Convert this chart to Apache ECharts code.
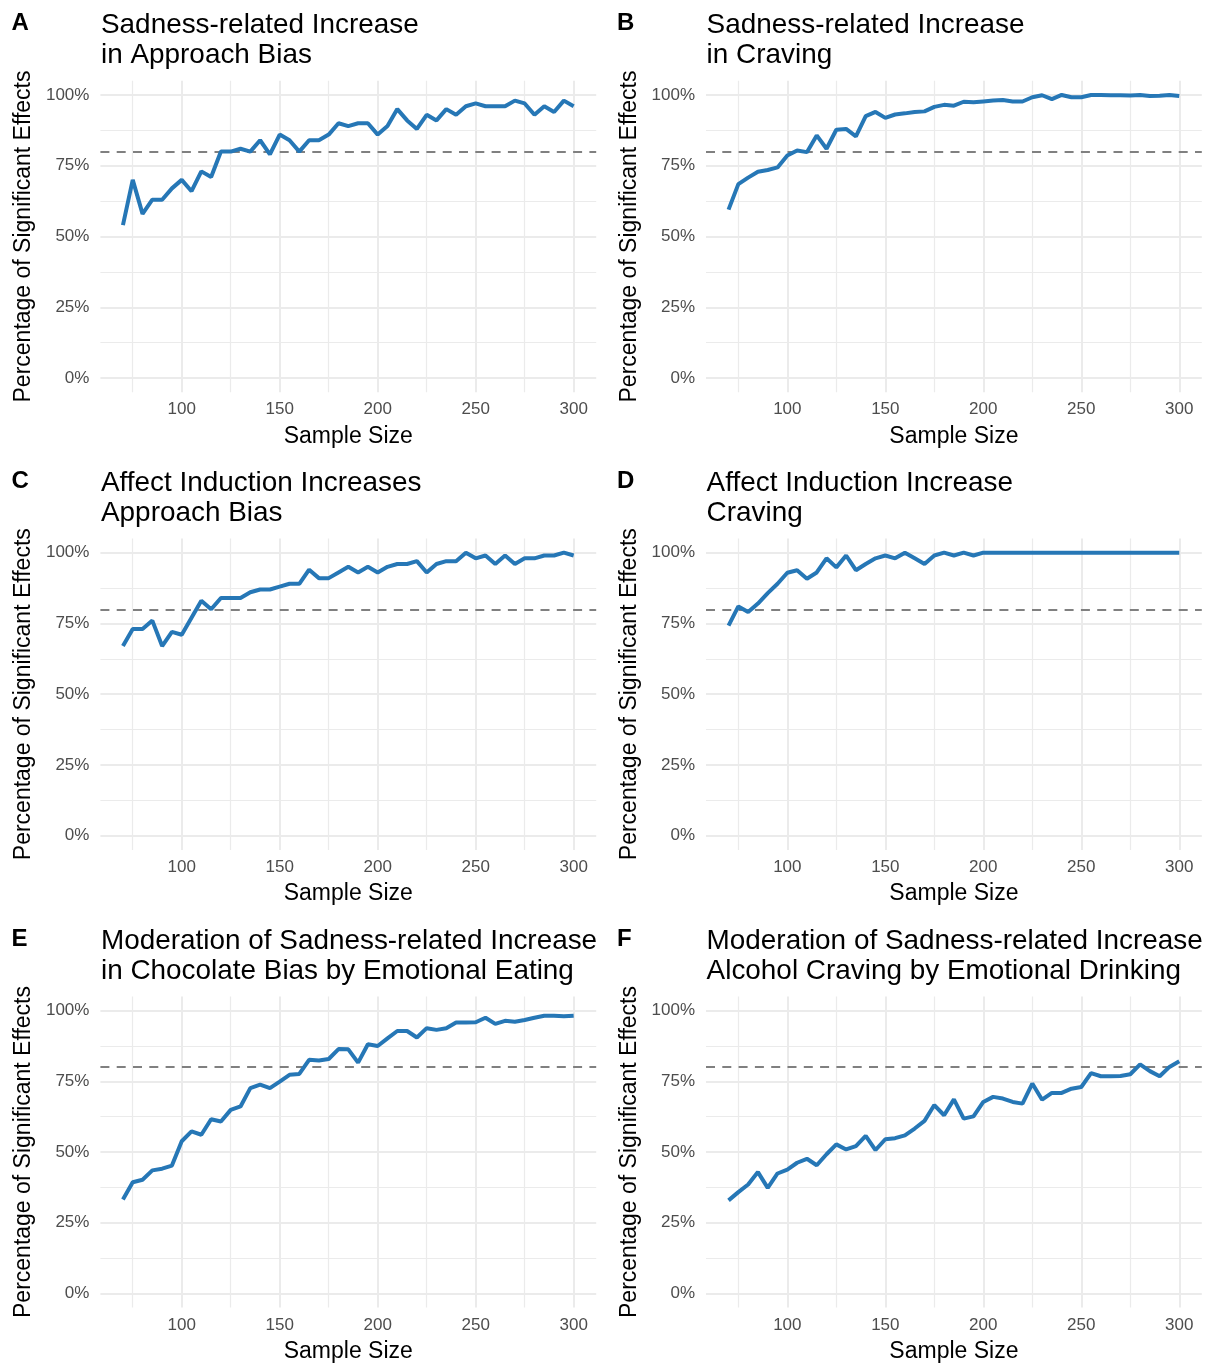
<!DOCTYPE html>
<html>
<head>
<meta charset="utf-8">
<script src="https://cdn.jsdelivr.net/npm/echarts@6/dist/echarts.min.js"></script>
<style>
  html, body { margin: 0; padding: 0; background: #ffffff; }
  #chart { width: 1212px; height: 1364px; }
</style>
</head>
<body>
<div id="chart"></div>
<script>
// ---------- DATA ----------
const sampleSizes = [70, 75, 80, 85, 90, 95, 100, 105, 110, 115, 120, 125, 130, 135, 140, 145, 150, 155, 160, 165,
  170, 175, 180, 185, 190, 195, 200, 205, 210, 215, 220, 225, 230, 235, 240, 245, 250, 255, 260, 265,
  270, 275, 280, 285, 290, 295, 300];

const powerA = [54, 70, 58, 63, 63, 67, 70, 66, 73, 71, 80, 80, 81, 80, 84, 79, 86, 84, 80, 84,
  84, 86, 90, 89, 90, 90, 86, 89, 95, 91, 88, 93, 91, 95, 93, 96, 97, 96, 96, 96,
  98, 97, 93, 96, 94, 98, 96];
const powerB = [59.5, 68.5, 70.8, 72.9, 73.5, 74.4, 78.6, 80.4, 79.8, 85.7, 81, 87.7, 88, 85.4, 92.5, 94, 91.9, 93.1, 93.5, 94,
  94.2, 95.8, 96.5, 96.2, 97.6, 97.4, 97.7, 98, 98.2, 97.7, 97.7, 99.2, 99.9, 98.5, 100, 99.2, 99.2, 100, 100, 99.9,
  99.9, 99.8, 100, 99.6, 99.7, 100, 99.6];
const powerC = [67, 73, 73, 76, 67, 72, 71, 77, 83, 80, 84, 84, 84, 86, 87, 87, 88, 89, 89, 94,
  91, 91, 93, 95, 93, 95, 93, 95, 96, 96, 97, 93, 96, 97, 97, 100, 98, 99, 96, 99,
  96, 98, 98, 99, 99, 100, 99];
const powerD = [74.2, 81, 79, 82, 85.7, 89, 92.9, 93.8, 90.8, 93, 98, 94.8, 99, 93.8, 96, 98, 99, 98, 100, 98,
  96, 99, 100, 99, 100, 99, 100, 100, 100, 100, 100, 100, 100, 100, 100, 100, 100, 100, 100, 100,
  100, 100, 100, 100, 100, 100, 100];
const powerE = [33.2, 39.3, 40.2, 43.5, 44.1, 45.2, 53.8, 57.3, 56.1, 61.6, 60.8, 64.9, 66.1, 72.6, 73.8, 72.6, 74.9, 77.3, 77.6, 82.6,
  82.4, 82.9, 86.4, 86.3, 81.6, 88.1, 87.5, 90.2, 92.8, 92.8, 90.5, 93.8, 93.2, 93.8, 95.8, 95.8, 95.9, 97.5, 95.3, 96.4,
  96.1, 96.7, 97.5, 98.2, 98.2, 98, 98.2];
const powerF = [32.9, 35.8, 38.5, 42.9, 37.3, 42.4, 43.8, 46.2, 47.6, 45.3, 49.2, 52.7, 50.9, 52.1, 55.7, 50.7, 54.5, 54.9, 55.9, 58.3,
  61, 66.6, 63, 68.6, 61.8, 62.6, 67.7, 69.5, 68.9, 67.7, 67.1, 74.2, 68.5, 70.9, 70.9, 72.4, 73, 77.9, 76.8, 76.8,
  76.9, 77.5, 81, 78.6, 76.8, 80.1, 82.1];

const panelTags = ['A', 'B', 'C', 'D', 'E', 'F'];
const panelTitles = [
  'Sadness-related Increase\nin Approach Bias',
  'Sadness-related Increase\nin Craving',
  'Affect Induction Increases\nApproach Bias',
  'Affect Induction Increase\nCraving',
  'Moderation of Sadness-related Increase\nin Chocolate Bias by Emotional Eating',
  'Moderation of Sadness-related Increase\nAlcohol Craving by Emotional Drinking'
];
const xMajorTicks = [100, 150, 200, 250, 300];
const xMinorTicks = [75, 125, 175, 225, 275];
const yMajorTicks = [0, 25, 50, 75, 100];
const yMinorTicks = [12.5, 37.5, 62.5, 87.5];
const thresholdPct = 80;
const xTitle = 'Sample Size';
const yTitle = 'Percentage of Significant Effects';

// ---------- LAYOUT / STYLE ----------
const FONT = '"Liberation Sans", Arial, Helvetica, sans-serif';
const LINE_COLOR = '#2677B6';
const GRID_COLOR = '#EBEBEB';
const colLeft = [100.4, 706];
const rowTop = [80.8, 538.5, 996.5];
const panelW = 495.8, panelH = 311.4;

const allSeries = [powerA, powerB, powerC, powerD, powerE, powerF];

const grids = [], xAxes = [], yAxes = [], series = [], titles = [];

allSeries.forEach((vals, i) => {
  const r = Math.floor(i / 2), c = i % 2;
  grids.push({ left: colLeft[c], top: rowTop[r], width: panelW, height: panelH, containLabel: false });

  const xBase = {
    gridIndex: i, type: 'value', min: 58.5, max: 311.5,
    axisLine: { show: false }
  };
  xAxes.push(Object.assign({}, xBase, {
    position: 'bottom',
    axisTick: { show: false, customValues: xMajorTicks },
    axisLabel: { show: true, customValues: xMajorTicks, color: '#4D4D4D', fontSize: 17, fontFamily: FONT, margin: 9 },
    splitLine: { show: true, lineStyle: { color: GRID_COLOR, width: 2 } },
    name: xTitle, nameLocation: 'middle', nameGap: 32.5,
    nameTextStyle: { color: '#000', fontSize: 23, fontFamily: FONT }
  }));
  xAxes.push(Object.assign({}, xBase, {
    position: 'top',
    axisTick: { show: false, customValues: xMinorTicks },
    axisLabel: { show: false, customValues: xMinorTicks },
    splitLine: { show: true, lineStyle: { color: GRID_COLOR, width: 1.2 } }
  }));

  const yBase = {
    gridIndex: i, type: 'value', min: -5, max: 105,
    axisLine: { show: false }
  };
  yAxes.push(Object.assign({}, yBase, {
    position: 'left',
    axisTick: { show: false, customValues: yMajorTicks },
    axisLabel: { show: true, customValues: yMajorTicks, formatter: v => v + '%', color: '#4D4D4D', fontSize: 17, fontFamily: FONT, margin: 11 },
    splitLine: { show: true, lineStyle: { color: GRID_COLOR, width: 2 } },
    name: yTitle, nameLocation: 'middle', nameGap: 65,
    nameTextStyle: { color: '#000', fontSize: 23, fontFamily: FONT }
  }));
  yAxes.push(Object.assign({}, yBase, {
    position: 'right',
    axisTick: { show: false, customValues: yMinorTicks },
    axisLabel: { show: false, customValues: yMinorTicks },
    splitLine: { show: true, lineStyle: { color: GRID_COLOR, width: 1.2 } }
  }));

  series.push({
    type: 'line',
    xAxisIndex: 2 * i, yAxisIndex: 2 * i,
    data: sampleSizes.map((s, k) => [s, vals[k]]),
    showSymbol: false, symbol: 'none',
    lineStyle: { color: LINE_COLOR, width: 4 },
    z: 5,
    markLine: {
      silent: true, symbol: 'none', animation: false,
      label: { show: false },
      lineStyle: { color: '#808080', width: 1.8, type: [9, 7.3] },
      data: [{ yAxis: thresholdPct }]
    }
  });

  titles.push({
    text: panelTitles[i], left: colLeft[c] + 0.6, top: rowTop[r] - 70.5, padding: 0,
    textStyle: { fontSize: 27.9, lineHeight: 30, fontWeight: 'normal', color: '#000', fontFamily: FONT }
  });
  titles.push({
    text: panelTags[i], left: c === 0 ? 11.5 : 617, top: rowTop[r] - 69, padding: 0,
    textStyle: { fontSize: 24, lineHeight: 24, fontWeight: 'bold', color: '#000', fontFamily: FONT }
  });
});

const chart = echarts.init(document.getElementById('chart'), null, { renderer: 'canvas' });
chart.setOption({
  animation: false,
  backgroundColor: '#ffffff',
  title: titles,
  grid: grids,
  xAxis: xAxes,
  yAxis: yAxes,
  series: series
});
</script>
</body>
</html>
